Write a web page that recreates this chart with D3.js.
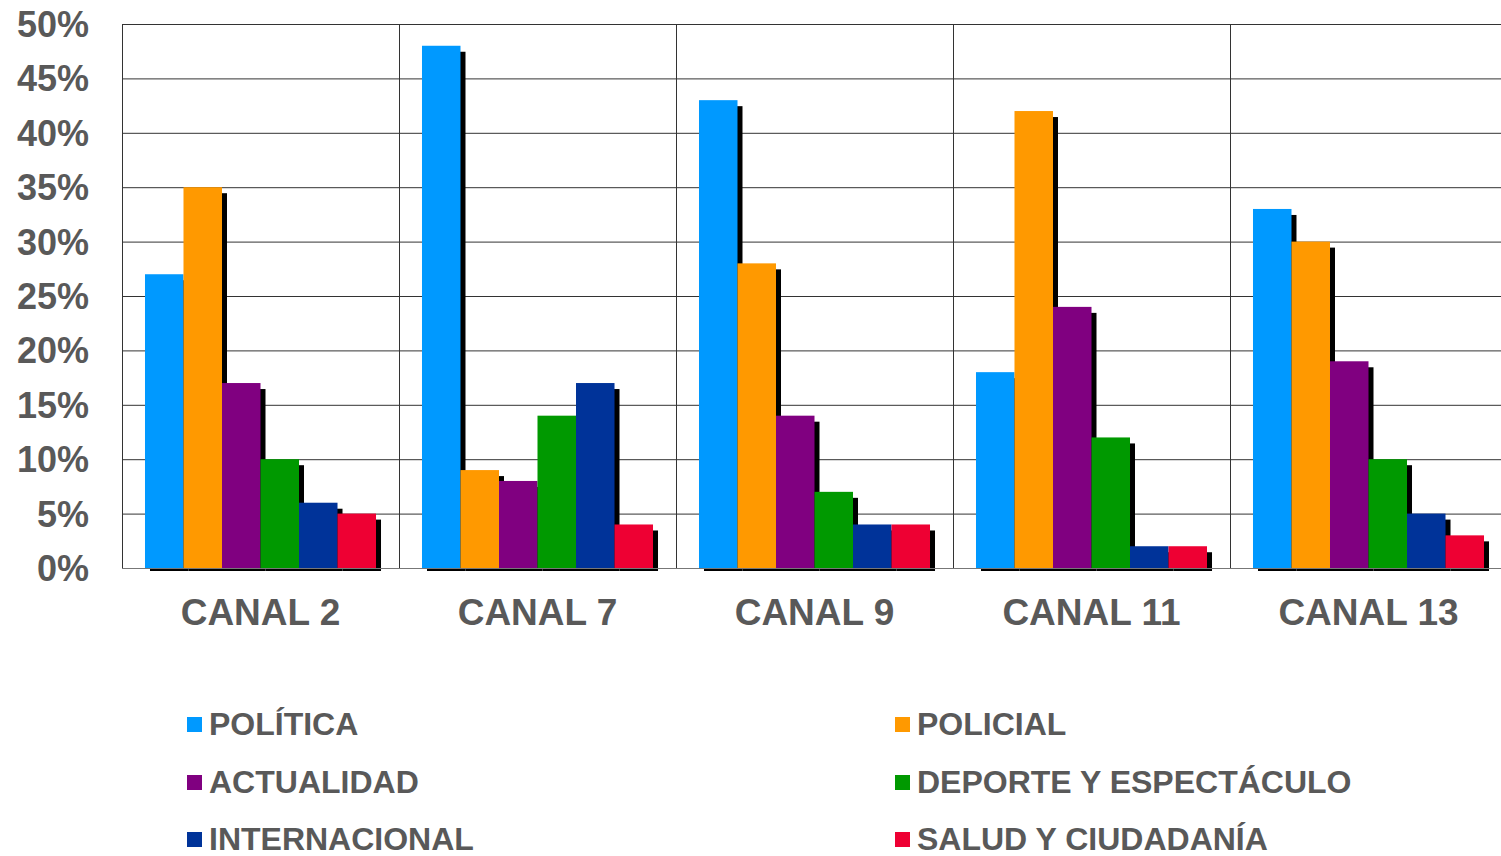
<!DOCTYPE html>
<html><head><meta charset="utf-8">
<script src="https://cdn.jsdelivr.net/npm/d3@7"></script>
<style>body{margin:0;background:#fff}svg{display:block}text{font-family:"Liberation Sans",Arial,sans-serif;font-weight:bold;fill:#595959}</style>
</head><body><svg id="c" width="1501" height="856"></svg>
<script>
const categories = ["CANAL 2","CANAL 7","CANAL 9","CANAL 11","CANAL 13"];
const seriesNames = ["POLÍTICA","POLICIAL","ACTUALIDAD","DEPORTE Y ESPECTÁCULO","INTERNACIONAL","SALUD Y CIUDADANÍA"];
const seriesColors = ["#0099ff","#ff9900","#800080","#009900","#003399","#ee0033"];
const politica = [27,48,43,18,33];
const policial = [35,9,28,42,30];
const actualidad = [17,8,14,24,19];
const deporte = [10,14,7,12,10];
const internacional = [6,17,4,2,5];
const salud = [5,4,4,2,3];
const yTicks = [0,5,10,15,20,25,30,35,40,45,50];
const seriesValues = [politica,policial,actualidad,deporte,internacional,salud];

const svg = d3.select("#c");
const L=122, R=1507, T=24, B=568;
const x0 = d3.scaleBand().domain(categories).range([L,R]).paddingInner(0).paddingOuter(0);
const bw = x0.bandwidth();
const x1 = d3.scaleBand().domain(d3.range(seriesNames.length)).range([bw*0.083,bw*0.917]).padding(0);
const y = d3.scaleLinear().domain([0,50]).range([B,T]);

// grid
svg.append("g").selectAll("line").data(yTicks).join("line")
  .attr("x1",L).attr("x2",R).attr("y1",d=>y(d)+0.5).attr("y2",d=>y(d)+0.5)
  .attr("stroke","#333").attr("stroke-width",1);
svg.append("g").selectAll("line").data(categories).join("line")
  .attr("x1",d=>Math.round(x0(d))+0.5).attr("x2",d=>Math.round(x0(d))+0.5).attr("y1",T).attr("y2",B)
  .attr("stroke","#333");

// y labels
svg.append("g").selectAll("text").data(yTicks).join("text")
  .attr("x",89).attr("y",d=>y(d)+13).attr("text-anchor","end")
  .style("font-size","36px").text(d=>d+"%");

// bars
const g = svg.append("g").selectAll("g").data(categories).join("g")
  .attr("transform",d=>`translate(${x0(d)},0)`);
g.each(function(cat,ci){
  const gg = d3.select(this);
  seriesValues.forEach((vals,si)=>{
    const v = vals[ci];
    gg.append("rect").attr("x",x1(si)+5).attr("y",y(v)+6)
      .attr("width",x1.bandwidth()).attr("height",B-y(v)-3).attr("fill","#000");
  });
  seriesValues.forEach((vals,si)=>{
    const v = vals[ci];
    gg.append("rect").attr("x",x1(si)).attr("y",y(v))
      .attr("width",x1.bandwidth()).attr("height",B-y(v)).attr("fill",seriesColors[si]);
  });
});
svg.append("line").attr("x1",L).attr("x2",R).attr("y1",B+0.5).attr("y2",B+0.5).attr("stroke","#777");

// x labels
svg.append("g").selectAll("text").data(categories).join("text")
  .attr("x",d=>x0(d)+x0.bandwidth()/2).attr("y",625).attr("text-anchor","middle")
  .style("font-size","37px").text(d=>d);

// legend
const legX=[187,895], legY=[725,783,840];
const lg = svg.append("g").selectAll("g").data(seriesNames).join("g")
  .attr("transform",(d,i)=>`translate(${legX[i%2]},${legY[Math.floor(i/2)]})`);
lg.append("rect").attr("x",0).attr("y",-8).attr("width",15).attr("height",15).attr("fill",(d,i)=>seriesColors[i]);
lg.append("text").attr("x",22).attr("y",10).style("font-size","32px").text(d=>d);
</script></body></html>
